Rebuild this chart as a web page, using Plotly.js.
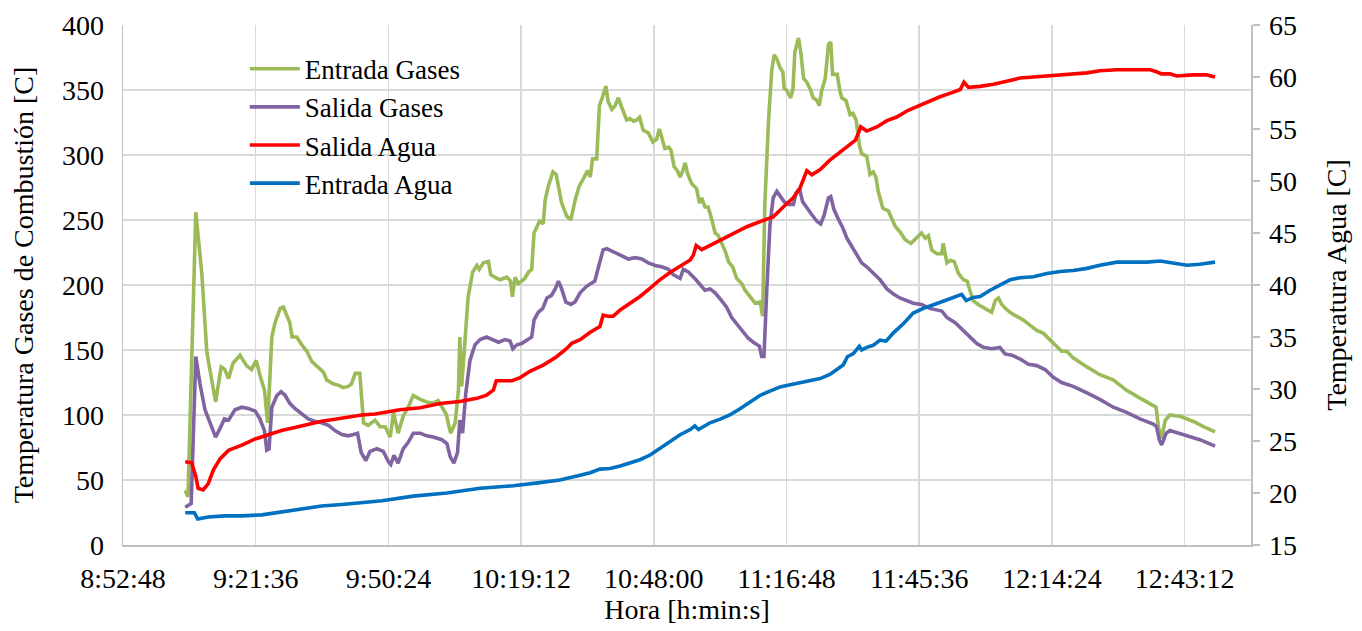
<!DOCTYPE html>
<html>
<head>
<meta charset="utf-8">
<script src="https://cdn.plot.ly/plotly-3.0.1.min.js"></script>
<style>html,body{margin:0;padding:0;background:#fff;}#chart{width:1362px;height:631px;}</style>
</head>
<body>
<div id="chart"></div>
<script>
// Time in minutes after midnight
const tickVals = [532.8, 561.6, 590.4, 619.2, 648.0, 676.8, 705.6, 734.4, 763.2];
const tickText = ['8:52:48', '9:21:36', '9:50:24', '10:19:12', '10:48:00', '11:16:48', '11:45:36', '12:14:24', '12:43:12'];
const leftTickVals = [0, 50, 100, 150, 200, 250, 300, 350, 400];
const rightTickVals = [15, 20, 25, 30, 35, 40, 45, 50, 55, 60, 65];

const seriesNames = ['Entrada Gases', 'Salida Gases', 'Salida Agua', 'Entrada Agua'];

const timeEntradaGases = [
546.3,546.9,548.6,549.9,551.0,552.1,552.9,554.1,554.9,555.7,
556.7,558.2,559.6,560.7,561.7,562.5,563.5,564.2,565.1,565.8,
566.9,567.6,568.3,569.0,569.5,570.5,571.6,572.7,573.8,575.2,
576.3,577.0,578.4,579.5,580.6,581.7,582.4,583.2,584.2,585.0,
586.0,587.5,588.6,589.7,590.8,591.5,592.5,593.6,594.7,595.8,
597.3,598.7,600.1,601.2,602.0,602.9,603.9,604.9,605.6,605.9,
606.3,607.0,607.7,608.7,609.6,610.1,611.0,612.1,612.6,613.5,
614.6,616.1,616.9,617.3,617.9,618.6,620.0,620.8,621.5,622.0,
622.6,623.2,624.0,624.4,625.1,626.1,626.8,628.0,629.1,630.0,
630.9,631.8,632.9,633.6,634.2,634.7,635.6,636.2,636.9,637.6,
638.1,638.9,639.6,640.3,641.0,642.1,642.8,643.6,644.3,644.9,
645.7,646.8,647.8,648.6,649.2,649.7,650.4,651.2,651.7,652.4,
653.1,653.7,654.3,654.8,655.3,656.2,657.3,657.9,658.4,659.1,
659.8,660.6,661.3,662.0,662.7,663.5,664.2,665.1,666.0,667.1,
667.8,668.9,670.0,671.1,671.6,672.1,672.9,673.6,674.1,674.7,
675.4,676.0,676.3,676.8,677.7,678.2,678.6,679.4,679.9,680.5,
681.2,681.9,682.6,683.4,683.9,684.4,685.2,685.9,686.4,686.8,
687.8,688.4,688.8,689.7,690.6,691.2,691.9,692.6,693.1,694.2,
694.9,695.6,696.2,696.7,697.7,698.9,699.6,700.4,701.4,702.5,
703.8,704.7,705.4,706.1,706.9,707.6,708.3,709.4,710.5,710.8,
711.6,712.4,713.2,714.1,715.2,716.0,716.6,717.3,718.4,719.5,
720.6,721.3,722.1,722.8,723.5,724.6,725.7,726.8,728.2,729.7,
731.1,732.5,734.0,735.4,736.5,737.6,739.0,742.0,744.8,747.7,
750.6,753.5,755.7,757.0,757.5,758.2,759.0,760.0,762.2,765.1,
767.3,769.8];
const entradaGases = [
42,37,256,209,148,125,110,137,135,128,
140,146,138,135,142,131,119,94,160,171,
182,183,176,171,160,160,154,149,141,137,
133,127,124,123,121,122,124,132,132,94,
92,96,91,91,83,102,86,99,106,115,
112,110,109,111,106,101,86,94,119,160,
122,158,191,210,215,212,217,218,208,206,
204,206,203,191,206,201,205,210,212,240,
245,249,247,265,276,287,285,263,253,250,
265,276,283,288,283,297,297,338,345,353,
341,335,338,344,337,327,328,326,327,329,
319,317,310,312,320,314,305,306,304,291,
288,283,288,294,286,278,274,263,267,260,
260,250,240,238,232,226,218,214,205,201,
196,191,186,187,176,263,327,365,377,374,
367,364,351,350,344,351,379,390,379,359,
356,351,344,342,338,349,359,385,387,362,
362,349,344,342,331,332,327,308,301,299,
285,287,283,272,259,257,252,245,241,235,
232,235,237,240,236,238,227,224,224,232,
217,219,218,209,204,203,196,188,185,183,
181,179,188,190,185,181,178,176,173,169,
165,163,158,153,149,149,144,137,131,127,
119,113,109,106,91,82,96,100,99,95,
91,87];

const timeSalidaGases = [
546.3,547.6,548.6,549.5,550.6,551.7,552.9,553.9,554.8,555.7,
557.1,558.6,560.0,561.5,562.5,563.5,564.0,564.5,565.1,566.2,
567.1,568.0,569.0,570.1,571.6,573.0,574.5,575.9,577.4,578.8,
580.3,581.7,582.8,583.7,584.5,585.5,586.4,587.9,589.3,590.4,
590.9,591.6,592.5,593.6,594.7,595.8,597.3,598.7,600.1,602.0,
603.1,603.8,604.6,605.4,605.9,606.5,607.2,608.1,609.2,610.3,
611.7,612.8,614.3,615.7,616.8,617.4,618.3,619.3,620.8,621.5,
622.0,622.9,623.9,624.8,625.8,626.6,627.3,628.0,628.9,630.0,
630.9,632.0,633.4,635.2,636.0,637.0,637.8,638.9,640.3,641.4,
642.5,643.9,645.4,646.8,648.3,649.7,651.2,652.2,653.7,654.4,
655.5,656.9,658.0,659.1,660.2,661.3,662.7,663.8,664.9,666.3,
667.4,668.5,669.6,670.9,671.4,671.9,672.5,672.9,673.2,673.9,
674.7,675.5,676.3,677.2,678.3,678.9,679.6,680.3,681.2,682.3,
683.4,684.2,684.9,685.9,686.4,687.1,688.0,689.0,689.9,691.0,
692.0,693.1,694.2,695.6,697.1,698.6,700.0,701.4,702.9,704.3,
706.1,707.9,710.5,711.6,713.4,715.2,716.6,718.1,719.5,721.3,
723.1,724.2,725.7,727.5,729.3,731.1,732.9,734.7,736.5,739.0,
742.0,744.8,747.7,750.6,753.5,756.4,757.1,757.7,758.2,759.2,
760.0,762.9,766.5,769.8];
const salidaGases = [
29,32,145,124,104,94,83,90,97,96,
104,106,105,103,97,88,73,74,106,115,
118,115,109,105,101,97,95,94,92,88,
85,84,85,86,71,65,72,74,72,64,
62,69,63,74,79,86,86,84,83,81,
78,68,63,71,96,86,117,142,154,158,
160,158,156,158,157,151,154,155,158,160,
173,179,182,190,192,197,203,197,187,185,
187,194,199,203,214,227,228,226,224,222,
220,221,220,217,215,214,212,208,205,212,
210,205,200,196,197,194,188,183,175,169,
164,159,156,153,145,145,195,222,246,267,
272,268,264,262,262,271,274,264,260,254,
249,247,253,267,268,258,251,244,236,229,
223,217,214,209,204,197,193,190,188,186,
185,182,180,175,171,165,160,155,152,151,
152,147,146,143,139,138,135,129,125,122,
117,112,106,102,97,93,91,81,77,86,
88,85,81,76];

const timeSalidaAgua = [
546.3,547.7,548.6,549.1,550.2,551.3,552.4,553.9,555.7,558.6,
561.5,564.3,567.2,570.1,573.0,575.9,578.8,581.7,584.6,587.5,
590.4,592.9,597.3,601.6,605.9,609.6,611.7,613.2,613.8,615.3,
617.2,619.0,621.1,624.0,626.9,629.1,630.2,632.0,634.2,636.3,
637.0,638.1,639.2,640.7,642.8,645.0,647.2,649.3,651.5,653.7,
655.9,656.6,657.2,658.4,660.2,662.4,665.3,668.2,671.1,673.9,
676.1,678.3,679.7,680.8,681.2,682.3,684.1,686.2,688.4,690.6,
691.7,692.4,692.9,694.2,696.4,698.6,700.7,703.2,704.3,707.2,
710.1,712.7,714.5,715.3,716.3,718.8,721.7,724.6,727.5,730.4,
733.3,736.2,739.0,742.0,744.8,748.5,752.1,755.7,757.1,758.2,
760.0,761.5,765.1,768.0,769.8];
const salidaAgua = [
23.0,22.9,21.6,20.45,20.3,20.9,22.2,23.3,24.1,24.6,
25.2,25.6,26.0,26.3,26.6,26.9,27.1,27.3,27.5,27.6,
27.8,28.0,28.2,28.6,28.8,29.1,29.4,29.9,30.8,30.8,
30.8,31.1,31.7,32.3,33.1,33.9,34.4,34.75,35.45,36.0,
37.1,37.0,37.0,37.6,38.2,38.9,39.7,40.5,41.2,41.8,
42.4,42.9,43.8,43.4,43.8,44.3,45.0,45.6,46.1,46.55,
47.5,48.4,49.3,50.7,51.0,50.6,51.1,52.0,52.8,53.6,
53.9,54.6,55.2,54.8,55.2,55.8,56.15,56.8,57.0,57.6,
58.1,58.5,58.8,59.5,59.0,59.1,59.3,59.6,59.9,60.0,
60.1,60.15,60.3,60.4,60.6,60.7,60.7,60.7,60.5,60.3,
60.3,60.1,60.2,60.2,60.0];

const timeEntradaAgua = [
546.3,548.3,549.0,549.9,551.3,554.9,558.6,562.9,567.2,571.6,
575.9,580.3,584.6,589.0,595.8,603.1,610.3,617.5,623.3,627.6,
632.0,634.2,636.3,638.5,640.7,642.8,645.0,647.2,649.3,651.5,
653.7,655.9,656.9,657.7,660.2,662.4,664.5,666.7,668.9,671.1,
673.2,675.4,677.6,679.7,681.9,684.1,686.2,688.0,689.1,690.0,
691.3,692.6,693.1,694.2,695.6,697.1,698.4,700.0,702.2,704.3,
706.5,708.7,710.8,713.0,714.8,715.8,717.3,718.8,721.0,723.1,
725.3,727.5,730.4,733.3,736.2,739.0,742.0,744.8,748.5,752.1,
755.0,757.9,760.8,763.7,766.5,769.8];
const entradaAgua = [
18.1,18.1,17.5,17.6,17.7,17.8,17.8,17.9,18.2,18.5,
18.75,18.9,19.1,19.25,19.7,20.0,20.45,20.7,21.0,21.25,
21.7,21.95,22.3,22.35,22.6,22.9,23.2,23.65,24.3,24.9,
25.6,26.1,26.45,26.1,26.75,27.1,27.5,28.1,28.8,29.4,
29.8,30.2,30.4,30.6,30.75,31.0,31.4,31.9,32.3,33.1,
33.4,34.1,33.75,34.0,34.2,34.7,34.6,35.4,36.3,37.3,
37.75,38.1,38.4,38.8,39.1,38.5,38.8,38.9,39.5,40.0,
40.5,40.7,40.8,41.1,41.3,41.4,41.6,41.9,42.2,42.2,
42.2,42.3,42.1,41.9,42.0,42.2];

const FONT = 'Liberation Serif';
const FS = 28;
const tf = {family: FONT, size: FS, color: '#000000', weight: 'normal', style: 'normal'};
const LW = 3.6;

const traces = [
  {x: timeEntradaGases, y: entradaGases, name: seriesNames[0], yaxis: 'y', type: 'scatter', mode: 'lines', line: {color: '#9BBB59', width: LW}},
  {x: timeSalidaGases, y: salidaGases, name: seriesNames[1], yaxis: 'y', type: 'scatter', mode: 'lines', line: {color: '#8064A2', width: LW}},
  {x: timeSalidaAgua, y: salidaAgua, name: seriesNames[2], yaxis: 'y2', type: 'scatter', mode: 'lines', line: {color: '#FF0000', width: LW}},
  {x: timeEntradaAgua, y: entradaAgua, name: seriesNames[3], yaxis: 'y2', type: 'scatter', mode: 'lines', line: {color: '#0070C0', width: LW}}
];

const layout = {
  width: 1362, height: 631,
  margin: {l: 123, r: 111, t: 25, b: 86, pad: 0},
  paper_bgcolor: '#ffffff', plot_bgcolor: '#ffffff',
  font: tf,
  showlegend: true,
  legend: {x: 0.108, y: 0.962, xanchor: 'left', yanchor: 'top', bgcolor: 'rgba(0,0,0,0)',
           font: {family: FONT, size: 27, color: '#000'}, tracegroupgap: 0, itemwidth: 50},
  xaxis: {
    range: [532.8, 777.6], tickmode: 'array', tickvals: tickVals, ticktext: tickText,
    showgrid: true, gridcolor: '#d9d9d9', gridwidth: 1.5,
    showline: true, linecolor: '#bfbfbf', linewidth: 1.5, zeroline: false, ticks: '',
    ticklabelstandoff: 8,
    tickfont: tf,
    title: {text: 'Hora [h:min:s]', font: tf, standoff: 4}
  },
  yaxis: {
    range: [0, 400], tickmode: 'array', tickvals: leftTickVals, ticktext: leftTickVals.map(String),
    showgrid: true, gridcolor: '#d9d9d9', gridwidth: 1.5,
    showline: true, linecolor: '#bfbfbf', linewidth: 1.5, zeroline: false, ticks: '',
    ticklabelstandoff: 12,
    tickfont: tf,
    title: {text: 'Temperatura Gases de Combustión [C]', font: tf, standoff: 20}
  },
  yaxis2: {
    range: [15, 65], tickmode: 'array', tickvals: rightTickVals, ticktext: rightTickVals.map(String),
    overlaying: 'y', side: 'right',
    showgrid: false, showline: true, linecolor: '#bfbfbf', linewidth: 1.5, zeroline: false,
    ticks: 'outside', ticklen: 7, tickcolor: '#bfbfbf', tickwidth: 1.5,
    ticklabelstandoff: 4,
    tickfont: tf,
    title: {text: 'Temperatura Agua [C]', font: tf, standoff: 30}
  }
};

Plotly.newPlot('chart', traces, layout, {displayModeBar: false, staticPlot: true});
</script>
</body>
</html>
